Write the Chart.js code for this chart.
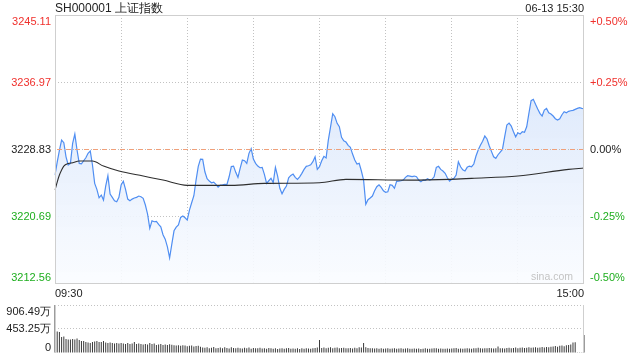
<!DOCTYPE html>
<html><head><meta charset="utf-8">
<script src="https://cdn.jsdelivr.net/npm/chart.js@4.4.1/dist/chart.umd.min.js"></script>
<style>
html,body{margin:0;padding:0;background:#fff;}
#wrap{position:relative;width:640px;height:360px;overflow:hidden;font-family:"Liberation Sans",Arial,sans-serif;}
#title{position:absolute;left:55px;top:1px;font-size:12px;color:#222;line-height:14px;white-space:nowrap;}
#date{position:absolute;right:56px;top:1px;font-size:11px;color:#222;line-height:14px;white-space:nowrap;}
#c1{position:absolute;left:0;top:0;}
#c2{position:absolute;left:0;top:295px;}
</style></head>
<body><div id="wrap">
<canvas id="c1" width="640" height="300"></canvas>
<canvas id="c2" width="640" height="65"></canvas>
<div id="title">SH000001 上证指数</div>
<div id="date">06-13 15:30</div>
</div>
<script>
// ---------- data ----------
const prevClose = 3228.83;
const priceTicks = [3245.11, 3236.97, 3228.83, 3220.69, 3212.56];
const pctTicks = ['+0.50%', '+0.25%', '0.00%', '-0.25%', '-0.50%'];
const volTicks = [906.49, 453.25, 0];
const volTickLabels = ['906.49万', '453.25万', '0'];
const axisTimeLabels = ['09:30', '15:00'];

// minute prices 09:30 - 11:30
const priceAM = [
3225.67,3227.25,3228.67,3229.92,3229.60,3227.89,3226.89,3227.09,3229.52,3230.65,
3228.71,3227.09,3227.04,3227.41,3227.77,3228.31,3228.59,3226.89,3224.66,3223.93,
3222.91,3223.24,3222.63,3224.33,3225.59,3223.36,3222.96,3222.55,3222.43,3222.96,
3224.46,3224.91,3223.93,3222.75,3222.55,3222.75,3222.88,3222.96,3223.12,3223.03,
3222.84,3222.03,3220.93,3219.20,3220.12,3220.00,3220.05,3219.68,3219.39,3218.42,
3217.89,3216.96,3215.62,3217.29,3218.90,3219.35,3219.60,3220.53,3220.69,3220.48,
3220.20,3221.42,3222.31,3223.16,3225.06,3226.73,3227.61,3227.58,3226.07,3225.22,
3224.94,3224.74,3224.82,3224.54,3224.21,3224.46,3224.49,3224.54,3224.52,3225.46,
3226.70,3226.76,3226.00,3225.39,3226.49,3227.49,3227.41,3227.09,3228.31,3228.87,
3227.61,3227.09,3226.76,3226.56,3226.61,3225.76,3224.66,3224.98,3225.27,3224.74,
3226.61,3225.55,3224.06,3223.40,3223.93,3224.33,3225.34,3225.63,3225.79,3225.39,
3225.15,3225.46,3225.88,3226.36,3226.73,3226.80,3226.92,3227.29,3227.89,3226.36,
3226.68];
// minute prices 13:01 - 15:00
const pricePM = [
3227.41,3227.94,3227.74,3229.92,3231.50,3233.12,3232.75,3231.95,3231.54,3230.25,
3229.84,3229.68,3229.28,3229.04,3228.22,3227.49,3227.01,3227.09,3226.16,3225.06,
3222.11,3222.67,3222.88,3223.12,3223.76,3224.25,3224.49,3224.18,3223.76,3223.57,
3223.64,3224.49,3224.42,3224.06,3224.91,3224.94,3224.98,3225.06,3225.39,3225.59,
3225.55,3225.49,3225.55,3225.46,3225.06,3224.86,3225.06,3225.03,3225.22,3225.06,
3225.15,3225.46,3226.61,3226.73,3226.36,3226.16,3225.88,3225.34,3224.94,3225.15,
3225.27,3225.67,3227.29,3226.68,3226.31,3226.16,3226.61,3226.76,3226.68,3227.01,
3227.98,3228.71,3229.28,3229.77,3230.41,3230.05,3229.23,3228.55,3227.89,3227.70,
3228.14,3228.47,3228.79,3230.32,3231.75,3231.99,3231.62,3230.93,3230.32,3230.81,
3230.65,3230.93,3230.86,3231.54,3233.17,3234.70,3234.87,3234.26,3233.69,3233.17,
3232.84,3233.57,3233.77,3233.24,3233.08,3232.84,3232.51,3232.35,3232.51,3233.00,
3233.36,3233.24,3233.41,3233.48,3233.53,3233.65,3233.77,3233.85,3233.77,3233.73];

// average price line (read at these minutes)
const avgTimes = ['09:30','09:31','09:32','09:33','09:34','09:36','09:38','09:41','09:47','09:52','09:59',
  '10:10','10:19','10:30','10:50','11:05','11:30','13:12','13:41','13:59','14:09','14:30','14:53','15:00'];
const avgValues = [3223.85,3224.82,3225.67,3226.28,3226.76,3227.07,3227.17,3227.37,3227.37,3226.76,3226.16,
  3225.55,3225.06,3224.42,3224.42,3224.66,3224.74,3225.15,3225.06,3225.15,3225.27,3225.55,3226.36,3226.52];

// minute volume (万) 09:30 - 11:30
const volAM = [
906.49,
405,398,302,310,265,255,255,265,255,274,246,227,
227,208,198,189,208,217,227,208,
208,227,198,189,198,189,180,189,180,189,
180,170,189,170,180,208,170,180,170,161,
170,161,189,170,180,151,161,170,151,161,
151,165,155,148,140,148,138,145,142,128,135,140,125,130,138,
118,105,98,110,92,100,115,88,95,102,90,108,96,85,
110,95,88,100,92,85,98,90,105,82,95,88,92,100,
85,90,78,95,88,82,92,76,85,90,80,88,95,78,
85,82,90,76,88,80,92,85,78,90,95,105,
245];
// minute volume (万) 13:01 - 15:00
const volPM = [
95,105,88,100,110,92,98,105,90,95,100,88,92,96,85,98,90,110,102,190,
110,95,88,92,85,90,82,88,78,85,92,80,86,90,78,84,88,80,85,90,
82,78,86,80,84,76,82,88,80,78,85,92,88,80,84,78,82,86,80,84,
88,95,82,86,80,84,90,85,82,88,92,98,90,85,92,88,95,90,86,92,
125,88,92,85,95,100,90,96,102,92,98,105,95,100,108,98,104,110,100,106,
112,105,115,108,118,125,130,120,135,140,128,145,150,160,200,205,6,5,6,340];

// ---------- build ----------
function fmt(m){const h=Math.floor(m/60), mm=m%60; return String(h).padStart(2,'0')+':'+String(mm).padStart(2,'0');}
const timeLabels = [];
for (let m = 0; m <= 120; m++) timeLabels.push(fmt(9*60+30+m));
for (let m = 1; m <= 120; m++) timeLabels.push(fmt(13*60+m));
const prices = priceAM.concat(pricePM);
const volumes = volAM.concat(volPM);
const avgPoints = avgTimes.map((t,j)=>({x:t, y:avgValues[j]}));

const FONT = '"Liberation Sans", Arial, sans-serif';
const RED = '#f0302c', GREEN = '#1fae1f', BLACK = '#222';
const GRID = '#c2c2c2', FRAME = '#cfcfcf';
function colorFor(v){ return v > prevClose + 0.001 ? RED : (v < prevClose - 0.001 ? GREEN : BLACK); }

const framePlugin = {
  id: 'frame',
  afterDatasetsDraw(chart){
    const {ctx, chartArea:a, scales:{y}} = chart;
    ctx.save();
    const y0 = Math.round(y.getPixelForValue(prevClose)) + 0.5;
    ctx.lineWidth = 1;
    ctx.strokeStyle = '#bbbbbb';
    ctx.setLineDash([1,2]);
    ctx.beginPath(); ctx.moveTo(a.left, y0); ctx.lineTo(a.right, y0); ctx.stroke();
    ctx.strokeStyle = '#f0a07a';
    ctx.setLineDash([5,4]);
    ctx.beginPath(); ctx.moveTo(a.left+2, y0); ctx.lineTo(a.right, y0); ctx.stroke();
    ctx.setLineDash([]);
    ctx.strokeStyle = FRAME;
    ctx.strokeRect(Math.round(a.left)+0.5, Math.round(a.top)+0.5, Math.round(a.right-a.left)-1, Math.round(a.bottom-a.top));
    ctx.restore();
  },
  afterDraw(chart){
    const {ctx, chartArea:a, scales:{y}} = chart;
    ctx.save();
    ctx.font = '11px ' + FONT;
    priceTicks.forEach((v,k)=>{
      const py = y.getPixelForValue(v);
      ctx.textBaseline = k===0 ? 'top' : (k===priceTicks.length-1 ? 'bottom' : 'middle');
      const yy = k===0 ? py+1 : (k===priceTicks.length-1 ? py : py+1);
      ctx.fillStyle = colorFor(v);
      ctx.textAlign = 'right';
      ctx.fillText(v.toFixed(2), a.left-4, yy);
      ctx.textAlign = 'left';
      ctx.fillText(pctTicks[k], a.right+6, yy);
    });
    ctx.font = '10.5px ' + FONT;
    ctx.fillStyle = '#c4c4c4';
    ctx.textAlign = 'right';
    ctx.textBaseline = 'bottom';
    ctx.fillText('sina.com', a.right-11, a.bottom-0.5);
    ctx.restore();
  }
};

new Chart(document.getElementById('c1'), {
  type: 'line',
  data: {
    labels: timeLabels,
    datasets: [
      { data: avgPoints, borderColor: '#2e2e2e', borderWidth: 1.1, pointRadius: 0, fill: false,
        cubicInterpolationMode: 'monotone', order: 1 },
      { data: prices, borderColor: '#4f8ef2', borderWidth: 1.2, pointRadius: 0, tension: 0,
        fill: 'start', order: 2,
        backgroundColor: (c)=>{
          const a = c.chart.chartArea; if (!a) return 'rgba(0,0,0,0)';
          const g = c.chart.ctx.createLinearGradient(0, a.top, 0, a.bottom);
          g.addColorStop(0, 'rgba(208,224,250,0.95)');
          g.addColorStop(1, 'rgba(250,252,255,0.9)');
          return g;
        } }
    ]
  },
  options: {
    responsive: false, animation: false, devicePixelRatio: 1,
    layout: { padding: { top: 15, right: 56, left: 0, bottom: 0 } },
    plugins: { legend: { display: false }, tooltip: { enabled: false } },
    scales: {
      x: {
        type: 'category', offset: false,
        grid: { drawTicks: false, lineWidth: 1,
          color: (c)=> (c.index % 30 === 0 && c.index > 0 && c.index < 240) ? GRID : 'rgba(0,0,0,0)' },
        border: { display: false, dash: [1,2] },
        ticks: { autoSkip: false, maxRotation: 0, minRotation: 0, align: 'inner', padding: 4,
          color: BLACK, font: { family: FONT, size: 11 },
          callback: (v,i)=> i===0 ? axisTimeLabels[0] : (i===timeLabels.length-1 ? axisTimeLabels[1] : '') },
        afterFit: (s)=>{ s.height = 17; }
      },
      y: {
        min: priceTicks[priceTicks.length-1], max: priceTicks[0],
        afterBuildTicks: (s)=>{ s.ticks = priceTicks.map(v=>({value:v})); },
        ticks: { display: false },
        grid: { drawTicks: false, color: (c)=> (c.index===1 || c.index===3) ? GRID : 'rgba(0,0,0,0)' },
        border: { display: false, dash: [1,2] },
        afterFit: (s)=>{ s.width = 55; }
      }
    }
  },
  plugins: [framePlugin]
});

const volPlugin = {
  id: 'volframe',
  afterDatasetsDraw(chart){
    const {ctx, chartArea:a, scales:{y}} = chart;
    ctx.save();
    ctx.strokeStyle = FRAME; ctx.lineWidth = 1;
    ctx.beginPath();
    ctx.moveTo(Math.round(a.left)+0.5, a.top); ctx.lineTo(Math.round(a.left)+0.5, a.bottom);
    ctx.moveTo(Math.round(a.right)-0.5, a.top); ctx.lineTo(Math.round(a.right)-0.5, a.bottom);
    ctx.stroke();
    ctx.font = '11px ' + FONT;
    ctx.fillStyle = BLACK; ctx.textAlign = 'right';
    volTicks.forEach((v,k)=>{
      const py = y.getPixelForValue(v);
      ctx.textBaseline = k===0 ? 'top' : (k===volTicks.length-1 ? 'bottom' : 'middle');
      ctx.fillText(volTickLabels[k], a.left-4, k===0 ? py+1 : py);
    });
    ctx.restore();
  }
};

new Chart(document.getElementById('c2'), {
  type: 'bar',
  data: { labels: timeLabels, datasets: [
    { data: volumes, backgroundColor: '#3a3a3a', barThickness: 1, inflateAmount: 0, clip: false, borderWidth: 0 }
  ]},
  options: {
    responsive: false, animation: false, devicePixelRatio: 1,
    layout: { padding: { top: 10, right: 56, left: 0, bottom: 7 } },
    plugins: { legend: { display: false }, tooltip: { enabled: false } },
    scales: {
      x: { type: 'category', offset: false, display: false, grid: { display: false } },
      y: {
        min: 0, max: volTicks[0],
        afterBuildTicks: (s)=>{ s.ticks = volTicks.map(v=>({value:v})); },
        ticks: { display: false },
        grid: { drawTicks: false, color: (c)=> (c.tick && c.tick.value > 0) ? GRID : 'rgba(0,0,0,0)' },
        border: { display: false, dash: [1,2] },
        afterFit: (s)=>{ s.width = 55; }
      }
    }
  },
  plugins: [volPlugin]
});
</script>
</body></html>
